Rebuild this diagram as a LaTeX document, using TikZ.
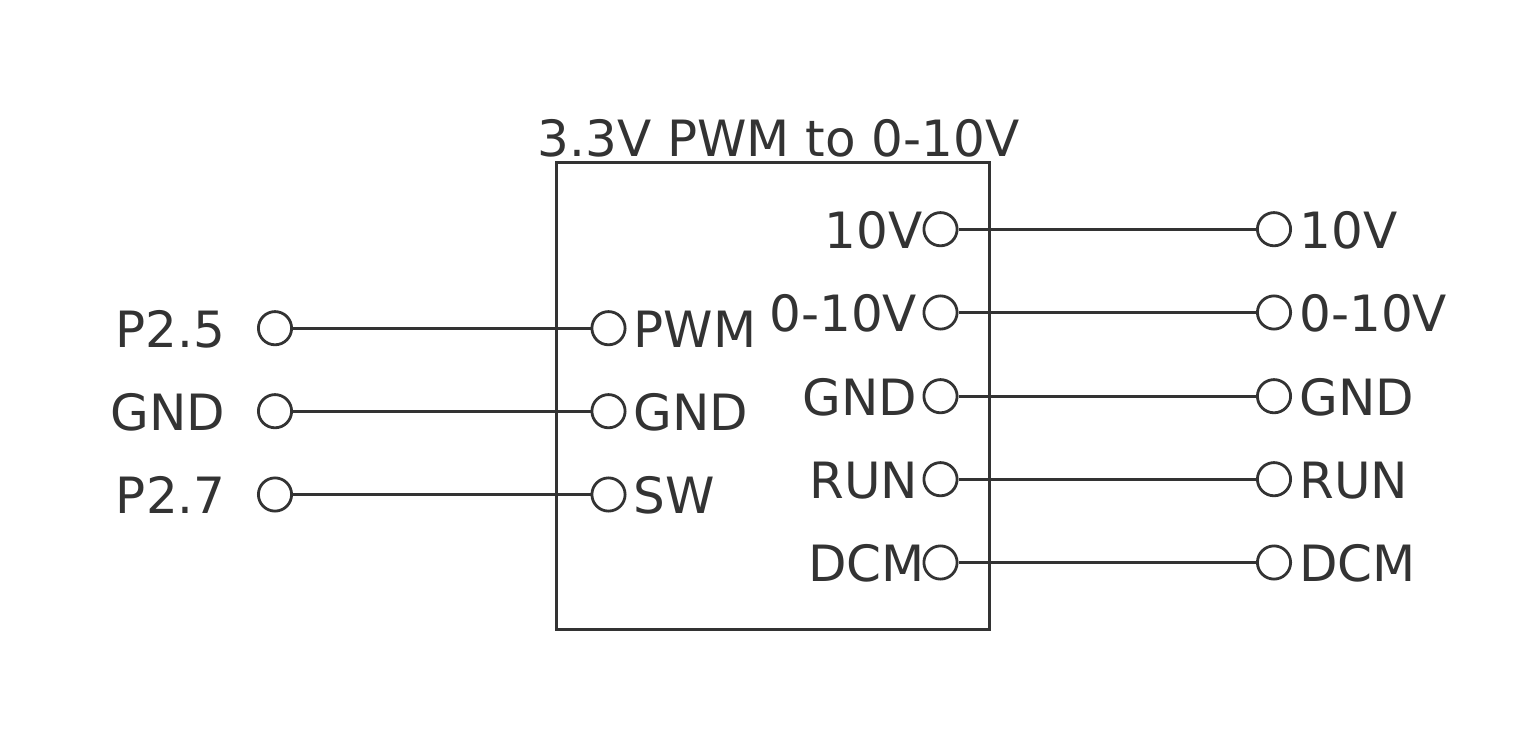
\documentclass[tikz,border=0pt]{standalone}
\usepackage{fontspec}
\setmainfont{DejaVu Sans}
\definecolor{inkgray}{HTML}{333333}
\tikzset{
  pin/.style={draw=inkgray, circle, line width=1.4pt, minimum size=16.6pt, inner sep=0pt},
  lbl/.style={text=inkgray, font=\fontsize{25}{30}\selectfont, inner sep=0pt},
  wire/.style={draw=inkgray, line width=1.5pt}
}
\begin{document}
\begin{tikzpicture}[x=0.5pt, y=-0.5pt]
  \useasboundingbox (0,0) rectangle (1525,749);
  \node (box) [draw=inkgray, line width=1.5pt, minimum width=216.5pt, minimum height=233.5pt, inner sep=0pt] at (773.2,395.5) {};
  \node (title) [lbl, anchor=base] at (778.5,156) {3.3V PWM to 0-10V};

  % left side
  \node (in_p25) [pin] at (275,328.2) {};
  \node (in_gnd) [pin] at (275,411.2) {};
  \node (in_p27) [pin] at (275,494.5) {};
  \node (l_p25) [lbl, anchor=base east] at (225.5,347) {P2.5};
  \node (l_gnd) [lbl, anchor=base east] at (225.5,430) {GND};
  \node (l_p27) [lbl, anchor=base east] at (226,513) {P2.7};

  % module inputs
  \node (pwm) [pin] at (608.5,328.2) {};
  \node (gnd_a) [pin] at (608.5,411.2) {};
  \node (sw) [pin] at (608.5,494.5) {};
  \node (l_pwm) [lbl, anchor=base west] at (633,347) {PWM};
  \node (l_gnd_a) [lbl, anchor=base west] at (633,430) {GND};
  \node (l_sw) [lbl, anchor=base west] at (633,513) {SW};

  % module outputs
  \node (v10) [pin] at (940.5,229.2) {};
  \node (v010) [pin] at (940.5,312.5) {};
  \node (gnd_b) [pin] at (940.5,396.2) {};
  \node (run) [pin] at (940.5,479.2) {};
  \node (dcm) [pin] at (940.5,562.5) {};
  \node (l_v10) [lbl, anchor=base east] at (923,248) {10V};
  \node (l_v010) [lbl, anchor=base east] at (917.5,331) {0-10V};
  \node (l_gnd_b) [lbl, anchor=base east] at (917.5,415) {GND};
  \node (l_run) [lbl, anchor=base east] at (918.5,498) {RUN};
  \node (l_dcm) [lbl, anchor=base east] at (925,581) {DCM};

  % right side
  \node (out_v10) [pin] at (1274,229.2) {};
  \node (out_v010) [pin] at (1274,312.5) {};
  \node (out_gnd) [pin] at (1274,396.2) {};
  \node (out_run) [pin] at (1274,479.2) {};
  \node (out_dcm) [pin] at (1274,562.5) {};
  \node (r_v10) [lbl, anchor=base west] at (1299,248) {10V};
  \node (r_v010) [lbl, anchor=base west] at (1299,331) {0-10V};
  \node (r_gnd) [lbl, anchor=base west] at (1299,415) {GND};
  \node (r_run) [lbl, anchor=base west] at (1299,498) {RUN};
  \node (r_dcm) [lbl, anchor=base west] at (1299,581) {DCM};

  \draw [wire] (in_p25) -- (pwm);
  \draw [wire] (in_gnd) -- (gnd_a);
  \draw [wire] (in_p27) -- (sw);
  \draw [wire] (v10) -- (out_v10);
  \draw [wire] (v010) -- (out_v010);
  \draw [wire] (gnd_b) -- (out_gnd);
  \draw [wire] (run) -- (out_run);
  \draw [wire] (dcm) -- (out_dcm);
\end{tikzpicture}
\end{document}
